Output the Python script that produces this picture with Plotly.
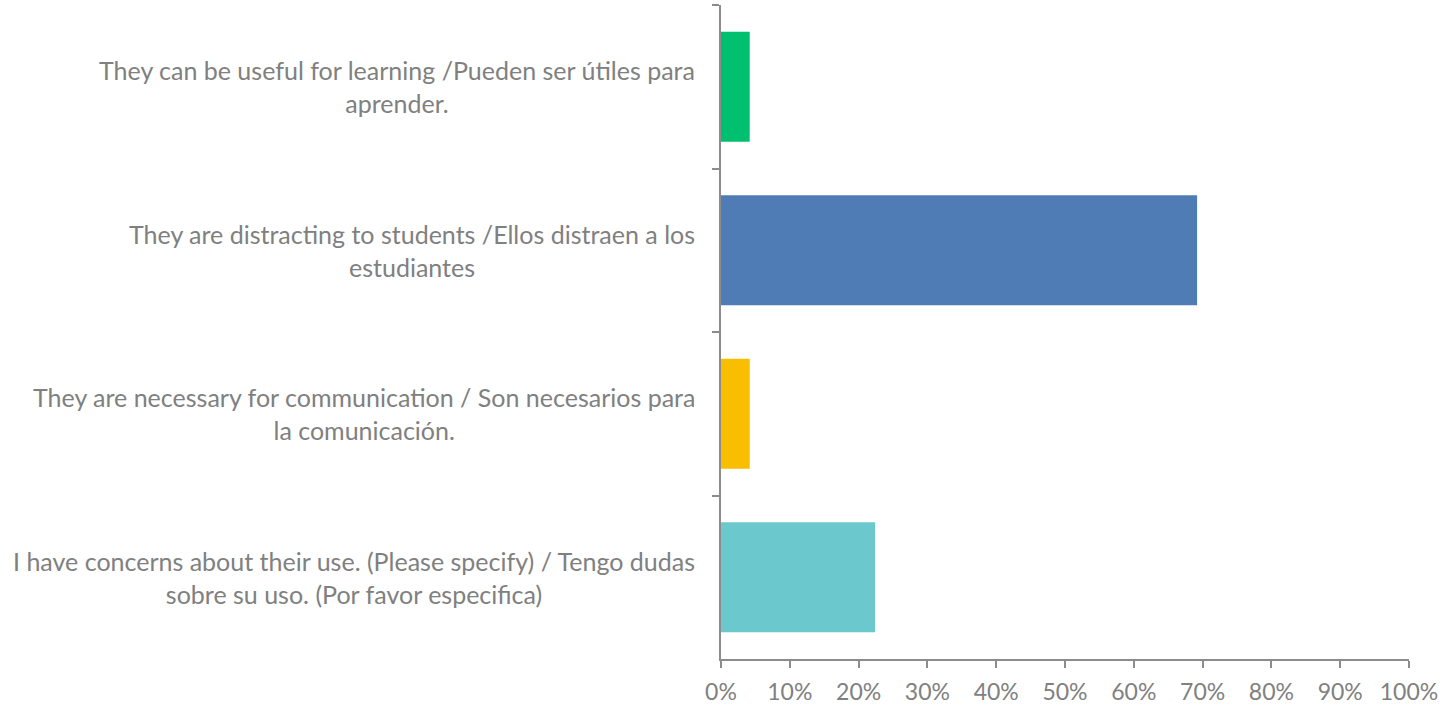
import plotly.graph_objects as go

categories = [
    "They can be useful for learning /Pueden ser útiles para<br>aprender.",
    "They are distracting to students /Ellos distraen a los<br>estudiantes",
    "They are necessary for communication / Son necesarios para<br>la comunicación.",
    "I have concerns about their use. (Please specify) / Tengo dudas<br>sobre su uso. (Por favor especifica)",
]
cat_keys = ["c1", "c2", "c3", "c4"]
values = [0.0417, 0.692, 0.0417, 0.224]
colors = ["#00BF6F", "#507CB6", "#F9BE00", "#6BC8CD"]

FONT = "Lato"
GRAY = "#808080"
AXIS = "#8c8c8c"

fig = go.Figure(go.Bar(
    x=values, y=cat_keys, orientation="h",
    marker=dict(color=colors, line=dict(width=0)),
    hoverinfo="skip",
))

W, H = 1449, 704
ml, mr, mt, mb = 721, 40, 5, 45
pw = W - ml - mr

for key, label in zip(cat_keys, categories):
    fig.add_annotation(
        x=-24 / pw, xref="paper", y=key, yref="y",
        text=label, showarrow=False, xanchor="right", yanchor="middle",
        align="center", font=dict(family=FONT, size=25, color=GRAY),
    )

fig.update_layout(
    width=W, height=H,
    margin=dict(l=ml, r=mr, t=mt, b=mb),
    paper_bgcolor="white", plot_bgcolor="white",
    bargap=0.327, showlegend=False,
    font=dict(family=FONT, color=GRAY),
)
fig.update_xaxes(
    range=[0, 1], tickmode="array", tickvals=[i / 10 for i in range(11)],
    ticktext=[f"{i*10}%" for i in range(11)],
    showline=True, linecolor=AXIS, linewidth=2,
    ticks="outside", ticklen=7, tickwidth=2, tickcolor=AXIS,
    showgrid=False, zeroline=False, ticklabelstandoff=4, automargin=False,
    tickfont=dict(family=FONT, size=23, color=GRAY),
    fixedrange=True,
)
fig.update_yaxes(
    categoryorder="array", categoryarray=cat_keys, autorange="reversed",
    showline=True, linecolor=AXIS, linewidth=2, automargin=False,
    ticks="outside", ticklen=7, tickwidth=2, tickcolor=AXIS,
    tickson="boundaries", showticklabels=False,
    showgrid=False, zeroline=False, fixedrange=True,
)

fig.write_html("out.html", config={"displayModeBar": False})
